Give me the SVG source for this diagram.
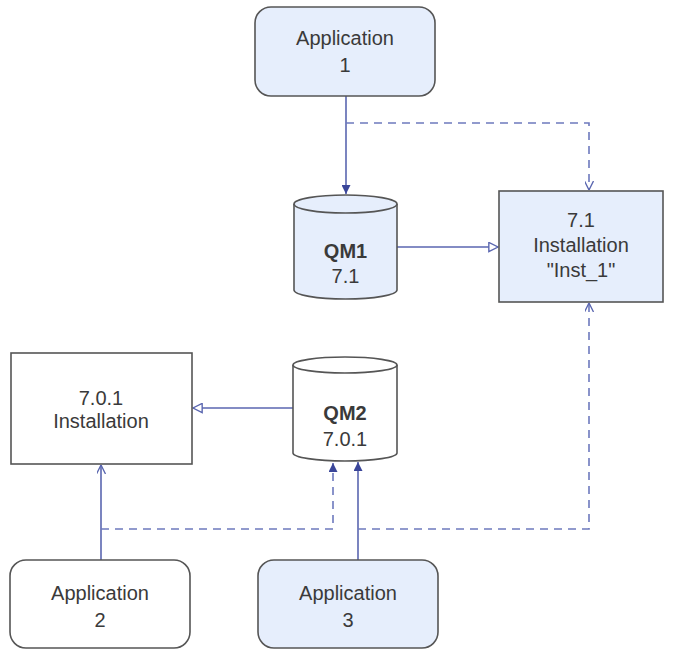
<svg xmlns="http://www.w3.org/2000/svg" width="674" height="650" viewBox="0 0 674 650">
<style>
.box{stroke:#555;stroke-width:1.6}
.blue{fill:#e6eefc}
.white{fill:#fff}
.t{font-family:"Liberation Sans",Arial,sans-serif;font-size:20px;fill:#3a3a3a;text-anchor:middle}
.b{font-weight:bold}
.c{fill:none;stroke:#5a66b0;stroke-width:1.6}
.d{stroke-dasharray:8,6;stroke:#6d79bd}
</style>
<defs>
<marker id="fill" viewBox="0 0 10 10" refX="10" refY="5" markerWidth="9" markerHeight="9" markerUnits="userSpaceOnUse" orient="auto">
<path d="M0,0 L10,5 L0,10 z" fill="#3a4599"/>
</marker>
<marker id="vee" viewBox="0 0 10 10" refX="10" refY="5" markerWidth="9" markerHeight="9" markerUnits="userSpaceOnUse" orient="auto">
<path d="M0,0 L10,5 L0,10" fill="none" stroke="#5a66b0" stroke-width="1.5"/>
</marker>
<marker id="tri" viewBox="0 0 12 12" refX="11" refY="6" markerWidth="11" markerHeight="11" markerUnits="userSpaceOnUse" orient="auto">
<path d="M1,1 L11,6 L1,11 z" fill="#fff" stroke="#5a66b0" stroke-width="1.5"/>
</marker>
</defs>
<g id="connectors">
<path class="c" d="M346,96 V194" marker-end="url(#fill)"/>
<path class="c d" d="M346,123 H589 V190" marker-end="url(#vee)"/>
<path class="c" d="M397,247 H498" marker-end="url(#tri)"/>
<path class="c" d="M293,408 H193" marker-end="url(#tri)"/>
<path class="c" d="M101,560 V465" marker-end="url(#vee)"/>
<path class="c d" d="M101,529 H333 V463" marker-end="url(#fill)"/>
<path class="c" d="M358,560 V462" marker-end="url(#fill)"/>
<path class="c d" d="M358,529 H589 V303" marker-end="url(#vee)"/>
</g>
<g id="app1">
<rect class="box blue" x="255" y="7" width="180" height="89" rx="16"/>
<text class="t" x="345" y="45">Application</text>
<text class="t" x="345" y="72">1</text>
</g>
<g id="qm1">
<path class="box blue" d="M294,204 V290 A51.5,9 0 0 0 397,290 V204"/>
<ellipse class="box blue" cx="345.5" cy="204" rx="51.5" ry="9"/>
<text class="t b" x="345.5" y="258">QM1</text>
<text class="t" x="345.5" y="283">7.1</text>
</g>
<g id="inst71">
<rect class="box blue" x="499" y="191" width="164" height="111"/>
<text class="t" x="581" y="227">7.1</text>
<text class="t" x="581" y="252">Installation</text>
<text class="t" x="581" y="277">"Inst_1"</text>
</g>
<g id="inst701">
<rect class="box white" x="11" y="353" width="181" height="111"/>
<text class="t" x="101" y="405">7.0.1</text>
<text class="t" x="101" y="428">Installation</text>
</g>
<g id="qm2">
<path class="box white" d="M293,365 V453 A52,8 0 0 0 397,453 V365"/>
<ellipse class="box white" cx="345" cy="365" rx="52" ry="8"/>
<text class="t b" x="345" y="420">QM2</text>
<text class="t" x="345" y="446">7.0.1</text>
</g>
<g id="app2">
<rect class="box white" x="10" y="560" width="180" height="88" rx="16"/>
<text class="t" x="100" y="600">Application</text>
<text class="t" x="100" y="627">2</text>
</g>
<g id="app3">
<rect class="box blue" x="258" y="560" width="180" height="88" rx="16"/>
<text class="t" x="348" y="600">Application</text>
<text class="t" x="348" y="627">3</text>
</g>
</svg>
